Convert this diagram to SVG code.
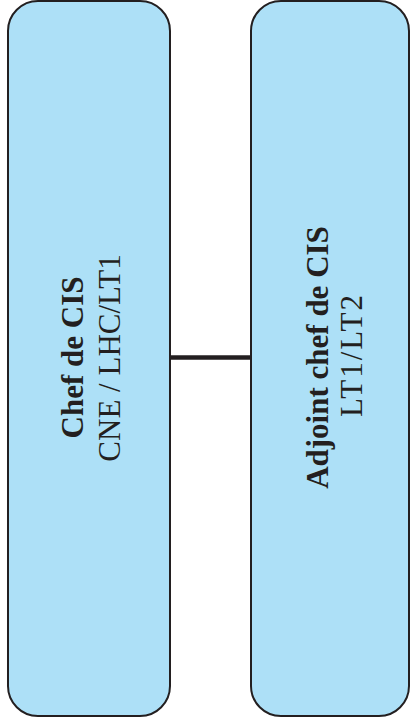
<svg xmlns="http://www.w3.org/2000/svg" width="411" height="727" viewBox="0 0 411 727">
<style>
.box{fill:#ade0f7;stroke:#231f20;stroke-width:2}
.t{font-family:"Liberation Serif","Times New Roman",serif;font-size:31px;fill:#231f20;text-anchor:middle}
.b{font-weight:bold}
.conn{stroke:#231f20;stroke-width:4.5;fill:none}
</style>
<rect width="411" height="727" fill="#ffffff"/>
<g id="connectors">
<line class="conn" x1="170" y1="357.5" x2="251" y2="357.5"/>
</g>
<g id="chef">
<rect class="box" x="8" y="1" width="162" height="715" rx="30" ry="30"/>
<text class="t b" transform="translate(83,357.5) rotate(-90)">Chef de CIS</text>
<text class="t" transform="translate(120,358) rotate(-90)">CNE / LHC/LT1</text>
</g>
<g id="adjoint">
<rect class="box" x="251" y="1" width="158" height="715" rx="30" ry="30"/>
<text class="t b" transform="translate(328,357.5) rotate(-90)">Adjoint chef de CIS</text>
<text class="t" transform="translate(362,356) rotate(-90)" textLength="122" lengthAdjust="spacing">LT1/LT2</text>
</g>
</svg>
